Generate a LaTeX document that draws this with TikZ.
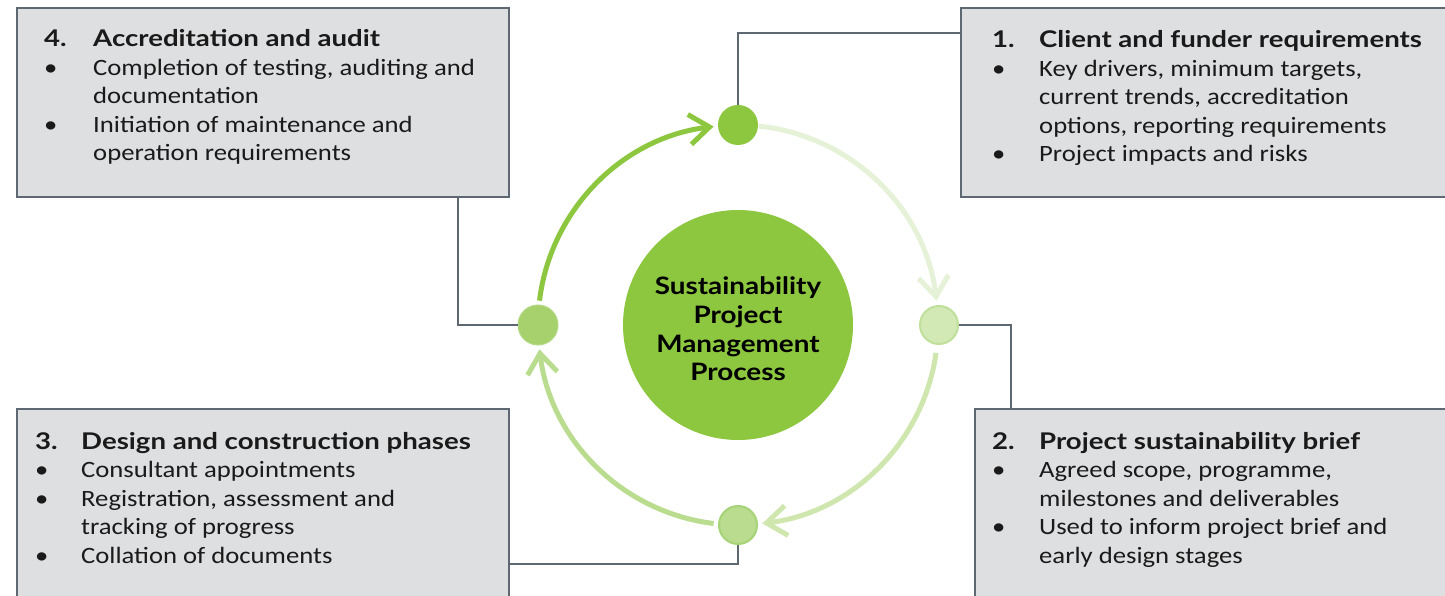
\documentclass[tikz,border=0pt]{standalone}
\usepackage{fontspec}
\setmainfont{Carlito}[FakeStretch=1.14]
\newfontfamily\headfont{Lato}[FakeStretch=1.2]
\newfontfamily\hubfont{Lato}[FakeStretch=1.16]
\usetikzlibrary{arrows.meta,calc}
\definecolor{boxfill}{HTML}{DEDFE1}
\definecolor{boxline}{HTML}{5E6873}
\definecolor{gDark}{HTML}{8DC63F}
\definecolor{gMid}{HTML}{A6D16C}
\definecolor{gMidLine}{HTML}{B5DA86}
\definecolor{gBot}{HTML}{B9DC8E}
\definecolor{gBotLine}{HTML}{A6D377}
\definecolor{gRight}{HTML}{D3E9B5}
\definecolor{gRightLine}{HTML}{BFE09A}
\definecolor{gArcTR}{HTML}{E6F2D7}
\definecolor{gArcRB}{HTML}{CFE7AF}
\definecolor{gArcBL}{HTML}{B9DC8E}
\definecolor{txt}{HTML}{1A1A1A}
\tikzset{
  infobox/.style={draw=boxline, fill=boxfill, line width=2.4pt, rectangle, anchor=north west, inner sep=0pt},
  infotext/.style={anchor=base west, inner sep=0pt, text=txt, font=\fontsize{23.4}{28.5}\selectfont},
  conn/.style={draw=boxline, line width=2.4pt},
  ringarc/.style={line width=5pt, -{Straight Barb[length=20pt,width=30pt,line width=5pt]}},
  dot/.style={circle, inner sep=0pt, minimum size=#1}
}
\newcommand{\hdr}[2]{{\headfont\bfseries\fontsize{23}{28.5}\selectfont #1} & {\headfont\bfseries\fontsize{23}{28.5}\selectfont #2}\\}
\newcommand{\bul}[1]{\textbullet & #1\\}
\newcommand{\cont}[1]{ & #1\\}
\begin{document}
\begin{tikzpicture}[x=1pt,y=1pt]
\useasboundingbox (0,0) rectangle (1445,595);
\fill[white] (0,0) rectangle (1445,595);
% boxes
\node[infobox, minimum width=492pt, minimum height=189pt] (box4) at (16,588) {};
\node[infobox, minimum width=500pt, minimum height=189pt] (box1) at (960,588) {};
\node[infobox, minimum width=492pt, minimum height=200pt] (box3) at (16,187) {};
\node[infobox, minimum width=500pt, minimum height=200pt] (box2) at (974,187) {};
% texts
\node[infotext] (t4) at (44,548) {\begin{tabular}[t]{@{}p{49pt}@{}l@{}}
\hdr{4.}{Accreditation and audit}
\bul{Completion of testing, auditing and}
\cont{documentation}
\bul{Initiation of maintenance and}
\cont{operation requirements}
\end{tabular}};
\node[infotext] (t1) at (992,547) {\begin{tabular}[t]{@{}p{47pt}@{}l@{}}
\hdr{1.}{Client and funder requirements}
\bul{Key drivers, minimum targets,}
\cont{current trends, accreditation}
\cont{options, reporting requirements}
\bul{Project impacts and risks}
\end{tabular}};
\node[infotext] (t3) at (35,146) {\begin{tabular}[t]{@{}p{46pt}@{}l@{}}
\hdr{3.}{Design and construction phases}
\bul{Consultant appointments}
\bul{Registration, assessment and}
\cont{tracking of progress}
\bul{Collation of documents}
\end{tabular}};
\node[infotext] (t2) at (992,146) {\begin{tabular}[t]{@{}p{47pt}@{}l@{}}
\hdr{2.}{Project sustainability brief}
\bul{Agreed scope, programme,}
\cont{milestones and deliverables}
\bul{Used to inform project brief and}
\cont{early design stages}
\end{tabular}};
% centre
\node[dot=230pt, fill=gDark] (hub) at (738,270) {};
\node[align=center, text=black, inner sep=0pt, font=\hubfont\bfseries\fontsize{24}{28.7}\selectfont] (hubtext) at (738,266) {Sustainability\\Project\\Management\\Process};
% small circles
\node[dot=40pt, fill=gDark] (ctop) at (738,470) {};
\node[dot=38pt, fill=gRight, draw=gRightLine, line width=2pt] (cright) at (939,270) {};
\node[dot=38pt, fill=gBot, draw=gBotLine, line width=2pt] (cbottom) at (738,70) {};
\node[dot=40pt, fill=gMid, draw=gMidLine, line width=1pt] (cleft) at (538,270) {};
% elbow points
\coordinate (k1) at (738,562);
\coordinate (k4) at (458,270);
\coordinate (k2) at (1011,270);
\coordinate (k3) at (738,31);
% connectors
\draw[conn] (ctop.north) -- (k1) -- (k1 -| box1.west);
\draw[conn] (cleft.west) -- (k4) -- (k4 |- box4.south);
\draw[conn] (cright.east) -- (k2) -- (k2 |- box2.north);
\draw[conn] (cbottom.south) -- (k3) -- (k3 -| box3.east);
% ring arcs
\draw[ringarc, draw=gDark] ($(hub.center)+(173:200pt)$) arc[start angle=173, end angle=97, radius=200pt];
\draw[ringarc, draw=gArcTR] ($(hub.center)+(84:200pt)$) arc[start angle=84, end angle=7, radius=200pt];
\draw[ringarc, draw=gArcRB] ($(hub.center)+(-8:200pt)$) arc[start angle=-8, end angle=-83, radius=200pt];
\draw[ringarc, draw=gArcBL] ($(hub.center)+(-97:200pt)$) arc[start angle=-97, end angle=-173, radius=200pt];
\end{tikzpicture}
\end{document}
